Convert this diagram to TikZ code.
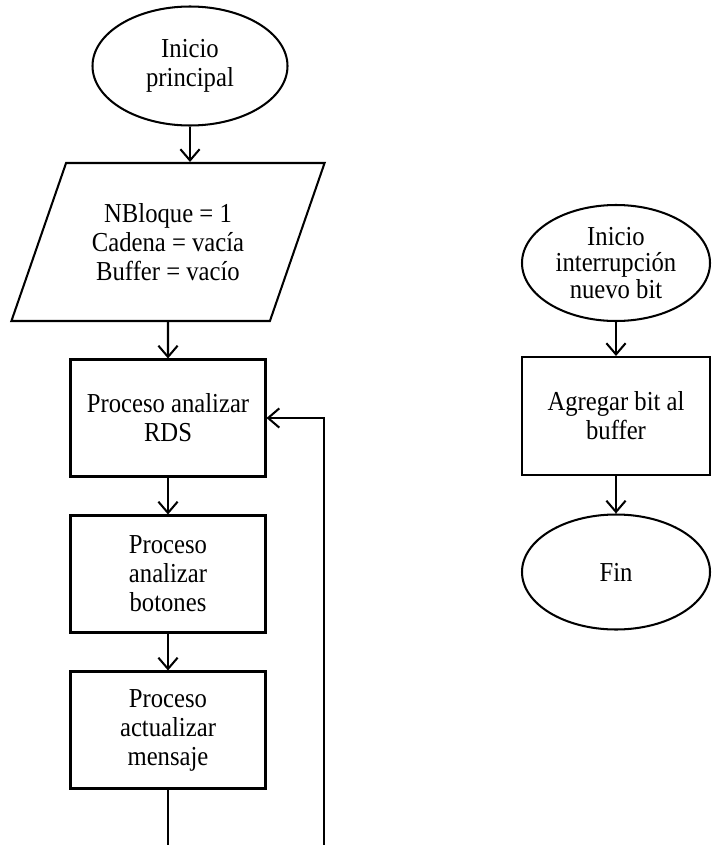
\documentclass[tikz,border=0pt]{standalone}
\usepackage{fontspec}
\setmainfont{Liberation Serif}[FakeStretch=0.9]
\usetikzlibrary{shapes.geometric,arrows.meta,positioning}

\begin{document}
\begin{tikzpicture}[auto, node distance=3.9cm, >={Straight Barb[length=2.8mm,width=4.8mm]}, line width=1.45pt,
        font=\fontsize{19.5}{20.6}\selectfont]
        % Estilos
        \tikzstyle{terminal} = [draw, ellipse, inner sep=0pt, minimum width=4.875cm, minimum height=2.975cm, align=center]
        \tikzstyle{datos} = [draw, trapezium, trapezium left angle=63.4, trapezium right angle=116.6, trapezium stretches=true, minimum width=7.85cm, minimum height=3.95cm, align=center]
        \tikzstyle{proceso} = [draw, rectangle, minimum width=4.875cm, minimum height=2.925cm, align=center]
        \tikzstyle{coord} = [coordinate]

        \useasboundingbox (0,0) rectangle (17.775,-21.125);

        % --- Programa principal ---
        \node [terminal] (inicio) at (4.75,-1.65) {Inicio\\principal};

        % Datos iniciales
        \node [datos] (init) at (4.2,-6.05) {NBloque = 1\\Cadena = vacía\\Buffer = vacío};

        % Procesos
        \node [proceso, below of=init, node distance=4.4cm] (rds) {Proceso analizar\\RDS};
        \node [proceso, below of=rds] (botones) {Proceso\\analizar\\botones};
        \node [proceso, below of=botones] (mensaje) {Proceso\\actualizar\\mensaje};

        % Puntos del lazo (fuera del dibujo)
        \node [coord, below of=mensaje, node distance=3cm] (salida) {};
        \node [coord, right of=salida, node distance=3.9cm] (retorno) {};

        % --- Interrupción ---
        \node [terminal, minimum width=4.7cm, minimum height=2.9cm, font=\fontsize{19.5}{18.6}\selectfont] (inicio_int) at (15.4,-6.575) {Inicio\\interrupción\\nuevo bit};
        \node [proceso, minimum width=4.7cm, minimum height=2.95cm, below of=inicio_int, node distance=3.825cm] (agregar) {Agregar bit al\\buffer};
        \node [terminal, minimum width=4.7cm, minimum height=2.875cm, below of=agregar] (fin) {Fin};

        % --- Collegamenti ---
        \draw [->] (inicio) -- (inicio |- init.north);
        \draw [->] (init) -- (rds);
        \draw [->] (rds) -- (botones);
        \draw [->] (botones) -- (mensaje);
        \draw (mensaje) -- (salida);

        % Ritorno a RDS
        \draw [->] (retorno) |- (rds);

        \draw [->] (inicio_int) -- (agregar);
        \draw [->] (agregar) -- (fin);

    \end{tikzpicture}
\end{document}
